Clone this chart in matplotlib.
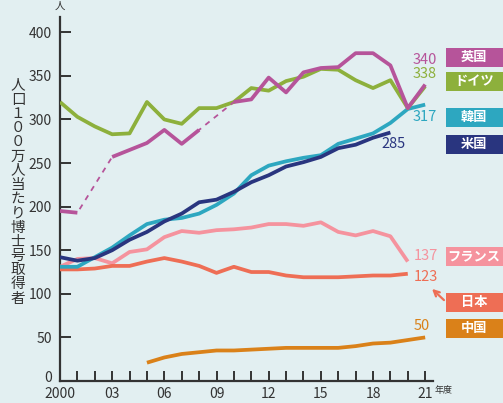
import numpy as np
import matplotlib
matplotlib.use("Agg")
import matplotlib.pyplot as plt
import matplotlib.transforms as mtransforms

plt.rcParams['font.family'] = ['Noto Sans CJK JP', 'DejaVu Sans']

#
# Data.
#

years = list(range(2000, 2022))

uk = [195, 193, None, 257, 265, 273, 288, 272, 288, None, 320, 323,
      348, 331, 354, 359, 360, 376, 376, 362, 313, 340]
germany = [320, 303, 292, 283, 284, 320, 300, 295, 313, 313, 320, 336,
           333, 344, 349, 358, 357, 345, 336, 345, 313, 338]
korea = [131, 131, 142, 153, 167, 180, 185, 187, 192, 202, 215, 236,
         247, 252, 256, 259, 272, 278, 284, 296, 312, 317]
usa = [142, 138, 141, 150, 162, 171, 183, 192, 205, 208, 217, 228,
       236, 246, 251, 257, 267, 271, 279, 285, None, None]
france = [131, 140, 141, 135, 148, 151, 165, 172, 170, 173, 174, 176,
          180, 180, 178, 182, 171, 167, 172, 166, 137, None]
japan = [128, 128, 129, 132, 132, 137, 141, 137, 132, 124, 131, 125,
         125, 121, 119, 119, 119, 120, 121, 121, 123, None]
china = [None, None, None, None, None, 21, 27, 31, 33, 35, 35, 36,
         37, 38, 38, 38, 38, 40, 43, 44, 47, 50]

countries = ['英国', 'ドイツ', '韓国', '米国', 'フランス', '日本', '中国']
latest = ['340', '338', '317', '285', '137', '123', '50']

xticks = [2000, 2003, 2006, 2009, 2012, 2015, 2018, 2021]
xticklabels = ['2000', '03', '06', '09', '12', '15', '18', '21']
yticks = [0, 50, 100, 150, 200, 250, 300, 350, 400]

def arr(values):
    return np.array([np.nan if v is None else v for v in values], dtype=float)

#
# Colours.
#

bg = '#E2EFF1'
c_uk = '#B6549A'
c_de = '#8DB03C'
c_kr = '#2DA7C0'
c_us = '#29357F'
c_fr = '#F5939E'
c_jp = '#EE6E55'
c_cn = '#DA8119'
ink = '#333333'

fig = plt.figure(figsize=(5.03, 4.03), dpi=100)
fig.patch.set_facecolor(bg)

W, H = 503.0, 403.0
ax = fig.add_axes([60 / W, 22 / H, 373 / W, 364 / H])
ax.set_facecolor(bg)

x = np.array(years)
lw = 2.7

ax.plot(x, arr(china), color=c_cn, lw=lw, solid_capstyle='butt', zorder=3)
ax.plot(x, arr(japan), color=c_jp, lw=lw, solid_capstyle='butt', zorder=4)
ax.plot(x, arr(france), color=c_fr, lw=lw, solid_capstyle='butt', zorder=3.5)
ax.plot(x, arr(korea), color=c_kr, lw=lw, solid_capstyle='butt', zorder=5)
ax.plot(x, arr(usa), color=c_us, lw=lw, solid_capstyle='butt', zorder=5.5)
ax.plot(x, arr(germany), color=c_de, lw=lw, solid_capstyle='butt', zorder=6)

# UK: dashed where years are missing, solid elsewhere
uk_a = arr(uk)
ok = ~np.isnan(uk_a)
ax.plot(x[ok], uk_a[ok], color=c_uk, lw=1.3, ls=(0, (3, 3)), zorder=6.5)
ax.plot(x, uk_a, color=c_uk, lw=lw, solid_capstyle='butt', zorder=7)

ax.set_xlim(2000, 2021.45)
ax.set_ylim(0, 417.5)

for s in ['top', 'right']:
    ax.spines[s].set_visible(False)
for s in ['left', 'bottom']:
    ax.spines[s].set_color(ink)
    ax.spines[s].set_linewidth(1.6)

ax.set_xticks(years, minor=True)
ax.set_xticks(xticks)
ax.set_xticklabels(xticklabels)
ax.set_yticks(yticks)
ax.tick_params(axis='x', which='both', direction='in', length=7, width=1.4,
               color=ink, labelsize=10, labelcolor=ink, pad=4)
ax.tick_params(axis='y', direction='in', length=8, width=1.4,
               color=ink, labelsize=10, labelcolor=ink, pad=6)

# lift the "0" label a little so it clears "2000"
zero = ax.get_yticklabels()[0]
zero.set_transform(zero.get_transform() +
                   mtransforms.ScaledTranslation(0, 5 / 100, fig.dpi_scale_trans))

#
# Value labels at the end of each line.
#

label_pos = [(425, 60), (425, 74), (425, 117), (393, 144),
             (426, 256), (426, 277), (422, 326)]
label_col = [c_uk, c_de, c_kr, c_us, c_fr, c_jp, c_cn]
for txt, (px, py), col in zip(latest, label_pos, label_col):
    fig.text(px / W, 1 - py / H, txt, color=col, fontsize=10.5,
             ha='center', va='center')

#
# Legend boxes on the right.
#

box_y = [48, 72, 108, 135, 247, 293, 319]
box_h = 18.5
for name, by, col in zip(countries, box_y, label_col):
    fig.patches.append(plt.Rectangle((446 / W, 1 - (by + box_h) / H),
                                     (W - 446) / W, box_h / H,
                                     transform=fig.transFigure,
                                     facecolor=col, edgecolor='none'))
    fig.text(474 / W, 1 - (by + box_h / 2) / H, name, color='white',
             fontsize=9.5, ha='center', va='center', fontweight='bold')

# arrow from the 日本 box to its value
ax.annotate('', xy=(430 / W, 1 - 287 / H), xycoords='figure fraction',
            xytext=(446 / W, 1 - 302 / H), textcoords='figure fraction',
            arrowprops=dict(arrowstyle='->', color=c_jp, lw=1.6,
                            mutation_scale=10))

#
# Axis titles.
#

ylab = '人口１００万人当たり博士号取得者'
fig.text(18 / W, 1 - 192 / H, '\n'.join(ylab), fontsize=10.5, color=ink,
         ha='center', va='center', linespacing=1.02)
fig.text(60 / W, 1 - 6 / H, '人', fontsize=7.5, color=ink,
         ha='center', va='center')
fig.text(444 / W, 1 - 390 / H, '年度', fontsize=6.5, color=ink,
         ha='center', va='center')

fig.savefig('out.png', dpi=100, facecolor=bg)
